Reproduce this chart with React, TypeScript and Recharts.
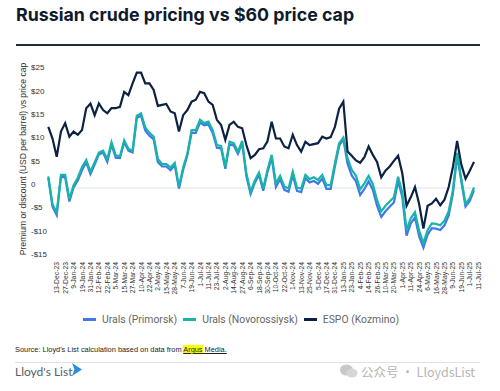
import React from 'react';
import { LineChart, Line, XAxis, YAxis, CartesianGrid } from 'recharts';

const tickLabels = [
  '13-Dec-23', '27-Dec-23', '9-Jan-24', '19-Jan-24', '31-Jan-24', '12-Feb-24', '22-Feb-24', '5-Mar-24',
  '15-Mar-24', '27-Mar-24', '10-Apr-24', '22-Apr-24', '2-May-24', '15-May-24', '28-May-24', '7-Jun-24',
  '19-Jun-24', '1-Jul-24', '11-Jul-24', '23-Jul-24', '2-Aug-24', '14-Aug-24', '27-Aug-24', '6-Sep-24',
  '18-Sep-24', '30-Sep-24', '10-Oct-24', '22-Oct-24', '1-Nov-24', '13-Nov-24', '25-Nov-24', '5-Dec-24',
  '17-Dec-24', '31-Dec-24', '13-Jan-25', '23-Jan-25', '4-Feb-25', '14-Feb-25', '26-Feb-25', '10-Mar-25',
  '20-Mar-25', '1-Apr-25', '11-Apr-25', '24-Apr-25', '6-May-25', '16-May-25', '28-May-25', '9-Jun-25',
  '19-Jun-25', '1-Jul-25', '11-Jul-25',
];

const espo = [
  13.1, 10.6, 6.7, 12.1, 13.9, 11.0, 12.1, 11.4, 12.4, 17.1,
  18.1, 15.6, 18.1, 16.7, 16.0, 17.1, 17.1, 17.4, 20.6, 19.9,
  22.4, 24.7, 24.7, 22.4, 22.4, 21.0, 17.6, 17.8, 18.0, 16.4,
  16.0, 12.1, 15.6, 16.7, 18.5, 18.9, 20.6, 20.3, 18.5, 17.8,
  14.6, 13.5, 10.3, 13.5, 14.2, 13.1, 12.8, 9.2, 6.4, 7.1,
  8.3, 8.5, 10.0, 14.2, 10.6, 10.6, 8.9, 8.5, 11.4, 9.2,
  7.8, 9.9, 9.2, 9.4, 9.6, 11.0, 10.6, 10.9, 13.1, 17.0,
  18.5, 7.8, 6.9, 5.9, 5.4, 6.6, 8.9, 7.1, 5.6, 2.3,
  3.7, 4.6, 5.8, 6.9, 3.1, -3.8, -2.0, 0.2, -3.5, -8.7,
  -3.8, -3.3, -2.3, -3.7, -2.5, 0.2, 4.5, 10.1, 5.0, 2.0,
  3.7, 5.6,
];

const novorossiysk = [
  2.5, -3.5, -5.2, 2.8, 2.8, -2.3, 0.6, 2.2, 4.5, 6.0,
  3.5, 5.5, 7.6, 8.0, 6.2, 9.8, 7.0, 6.8, 10.2, 8.4,
  8.0, 15.5, 16.0, 13.0, 11.8, 11.0, 6.2, 5.1, 5.1, 4.4,
  5.4, 0.3, 4.4, 7.4, 12.4, 12.4, 14.6, 13.9, 14.2, 12.4,
  9.2, 9.0, 4.6, 9.9, 9.6, 7.8, 10.1, 3.1, -0.8, 1.6,
  3.3, -0.1, 3.9, 7.1, 1.0, 2.6, 0.3, -0.1, 3.5, 0.1,
  -0.1, 2.8, 1.9, 2.3, 1.7, 2.8, 0.6, 0.6, 5.3, 9.6,
  10.8, 6.4, 3.9, 2.6, -0.3, 1.0, 2.6, 0.8, -2.6, -5.0,
  -3.8, -2.9, -2.0, 2.4, -1.0, -9.0, -6.5, -5.2, -9.2, -11.8,
  -9.0, -7.6, -7.7, -8.0, -7.0, -5.0, -0.4, 7.5, 2.0, -3.4,
  -2.2, 0.1,
];

const primorsk = [
  2.2, -4.0, -5.8, 2.4, 2.3, -2.9, 0.1, 1.6, 3.8, 5.5,
  3.0, 5.0, 7.2, 7.6, 5.6, 9.3, 6.5, 6.4, 9.8, 8.0,
  7.6, 15.0, 15.5, 12.3, 11.2, 10.4, 5.5, 4.6, 4.6, 3.8,
  4.9, -0.1, 3.9, 7.0, 11.8, 11.8, 14.0, 13.4, 13.6, 11.8,
  8.6, 8.5, 4.1, 9.4, 9.1, 7.3, 9.6, 2.5, -1.3, 1.1,
  2.8, -0.6, 3.4, 6.5, 0.2, 1.9, -0.4, -0.8, 2.8, -0.6,
  -0.9, 2.1, 1.2, 1.5, 0.9, 2.0, -0.2, -0.2, 4.6, 9.0,
  10.5, 5.2, 2.7, 1.4, -1.5, -0.2, 1.4, -0.4, -3.8, -6.2,
  -5.0, -4.0, -3.1, 1.5, -2.0, -10.2, -7.6, -6.3, -10.4, -12.8,
  -10.0, -8.6, -8.7, -9.0, -8.0, -5.9, -1.2, 6.9, 1.4, -4.0,
  -2.8, -0.5,
];

const yTicks = [-15, -10, -5, 0, 5, 10, 15, 20, 25];

const COLORS = { primorsk: '#3f79e8', novo: '#17b5a8', espo: '#0b2244' };

const data = espo.map((v, i) => ({ k: i, espo: v, novo: novorossiysk[i], primorsk: primorsk[i] }));
const xTicks = tickLabels.map((_, i) => 2 + 2 * i);

const fmtY = (v: number) => (v === 0 ? '0' : v < 0 ? `-$${Math.abs(v)}` : `$${v}`);

const YTick = (props: any) => {
  const { y, payload } = props;
  return (
    <text x={31} y={y - 3.5} textAnchor="start" dominantBaseline="central" fontSize={8} fill="#333" fontFamily="Liberation Sans, Arial, sans-serif">
      {fmtY(payload.value)}
    </text>
  );
};

const XTick = (props: any) => {
  const { x, payload } = props;
  const idx = Math.round((payload.value - 2) / 2);
  const yy = 262;
  return (
    <text x={x} y={yy} transform={`rotate(-90 ${x} ${yy})`} textAnchor="end" dominantBaseline="central" fontSize={6.8} fill="#333" fontFamily="Liberation Sans, Arial, sans-serif">
      {tickLabels[idx]}
    </text>
  );
};

const legendItems = [
  { name: 'Urals (Primorsk)', color: COLORS.primorsk },
  { name: 'Urals (Novorossiysk)', color: COLORS.novo },
  { name: 'ESPO (Kozmino)', color: COLORS.espo },
];

export default function App() {
  return (
    <div style={{ position: 'absolute', left: 0, top: 0, width: 500, height: 391, background: '#fff', overflow: 'hidden', fontFamily: 'Liberation Sans, Arial, sans-serif' }}>
      <div style={{ position: 'absolute', left: 16, top: 4, fontFamily: 'Inter, sans-serif', fontWeight: 700, fontSize: 17.8, color: '#0f1b2d', whiteSpace: 'nowrap', letterSpacing: 0 }}>
        Russian crude pricing vs $60 price cap
      </div>
      <div style={{ position: 'absolute', left: 16, top: 43.5, width: 464, height: 2, background: '#1f2d3d' }} />

      <div style={{ position: 'absolute', left: 0, top: 0 }}>
        <LineChart width={500} height={300} data={data} margin={{ top: 71.3, right: 21.8, bottom: 2, left: 0 }}>
          <CartesianGrid vertical={false} horizontalValues={[0]} stroke="#dfe4e8" strokeWidth={1} />
          <XAxis dataKey="k" type="number" domain={[0, 102]} ticks={xTicks} interval={0} axisLine={false} tickLine={false} height={40} tick={<XTick />} />
          <YAxis domain={[-15, 25]} ticks={yTicks} width={48.3} axisLine={false} tickLine={false} tick={<YTick />} interval={0} />
          <Line dataKey="primorsk" stroke={COLORS.primorsk} strokeWidth={2.2} dot={false} isAnimationActive={false} />
          <Line dataKey="novo" stroke={COLORS.novo} strokeWidth={2.2} dot={false} isAnimationActive={false} />
          <Line dataKey="espo" stroke={COLORS.espo} strokeWidth={2.2} dot={false} isAnimationActive={false} />
        </LineChart>
      </div>

      <div style={{ position: 'absolute', left: 22.5, top: 158.5, transform: 'translate(-50%, -50%) rotate(-90deg)', fontSize: 8.6, color: '#333', whiteSpace: 'nowrap' }}>
        Premium or discount (USD per barrel) vs price cap
      </div>

      <div style={{ position: 'absolute', left: 83, top: 313, display: 'flex', alignItems: 'center', fontSize: 10.4, color: '#666', whiteSpace: 'nowrap', fontFamily: 'Roboto, Arial, sans-serif' }}>
        {legendItems.map((it, i) => (
          <div key={it.name} style={{ display: 'flex', alignItems: 'center', marginRight: i < 2 ? 6 : 0 }}>
            <div style={{ width: 13, height: 2.5, background: it.color, marginRight: 6 }} />
            <span>{it.name}</span>
          </div>
        ))}
      </div>

      <div style={{ position: 'absolute', left: 15, top: 345, fontSize: 7.4, color: '#222', whiteSpace: 'nowrap' }}>
        Source: Lloyd's List calculation based on data from{' '}
        <span style={{ textDecoration: 'underline' }}>
          <span style={{ background: '#ffff00' }}>Argus</span> Media.
        </span>
      </div>
      <div style={{ position: 'absolute', left: 15, top: 361.5, width: 465, height: 1, background: '#e2e2e2' }} />

      <div style={{ position: 'absolute', left: 15, top: 364, fontSize: 12, color: '#55606c', whiteSpace: 'nowrap', fontFamily: 'Lato, Arial, sans-serif' }}>
        Lloyd's List
      </div>
      <svg style={{ position: 'absolute', left: 70, top: 362 }} width={14} height={16}>
        <path d="M2 1 L12 7.5 L2 14 L4.5 7.5 Z" fill="#2b8fd8" />
      </svg>

      <svg style={{ position: 'absolute', left: 339, top: 363 }} width={20} height={16}>
        <ellipse cx={7.5} cy={7} rx={6.5} ry={5.5} fill="#c8c8c8" />
        <ellipse cx={13} cy={10} rx={5.5} ry={4.5} fill="#d6d6d6" />
      </svg>
      <div style={{ position: 'absolute', left: 361, top: 362, fontSize: 12.5, color: '#b5b5b5', whiteSpace: 'nowrap', fontFamily: 'Noto Sans CJK SC, sans-serif' }}>
        公众号 · LloydsList
      </div>
    </div>
  );
}
